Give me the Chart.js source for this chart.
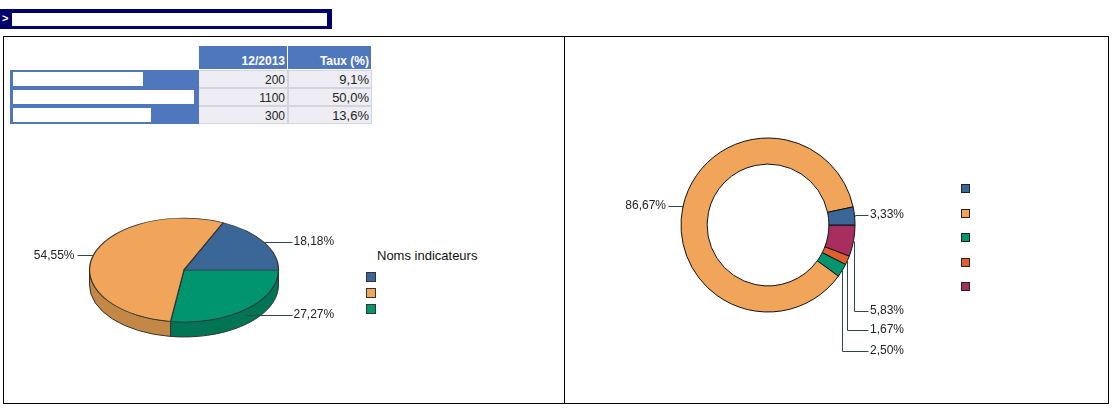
<!DOCTYPE html>
<html><head><meta charset="utf-8">
<script src="https://cdn.jsdelivr.net/npm/chart.js@4.4.1/dist/chart.umd.min.js"></script>
<style>
html,body{margin:0;padding:0;background:#fff;width:1113px;height:414px;overflow:hidden;font-family:"Liberation Sans",Arial,sans-serif;}
.abs{position:absolute;box-sizing:border-box;}
</style></head><body>
<div class="abs" style="left:0;top:9px;width:332px;height:20px;background:#00006a;"></div>
<div class="abs" style="left:12px;top:13px;width:315px;height:13px;background:#fff;"></div>
<div class="abs" style="left:2px;top:12px;color:#fff;font:bold 11px 'Liberation Sans';">&gt;</div>
<div class="abs" style="left:3px;top:36px;width:1106px;height:368px;border:1px solid #000;"></div>
<div class="abs" style="left:564px;top:36px;width:1px;height:368px;background:#000;"></div>
<div id="table"></div>
<div id="legendL"></div>
<div id="legendR"></div>
<canvas id="pie" class="abs" style="left:9px;top:135px;" width="350" height="270"></canvas>
<canvas id="donut" class="abs" style="left:618px;top:90px;" width="300" height="270"></canvas>
<script>
// ---- data ----
const tableHeaders = ['12/2013', 'Taux (%)'];
const tableValues = [200, 1100, 300];
const tableRates = ['9,1%', '50,0%', '13,6%'];

const pieCategories = ['Indicateur 1', 'Indicateur 2', 'Indicateur 3'];
const pieValues = [200, 600, 300];
const legendTitle = 'Noms indicateurs';

const donutCategories = ['Indicateur A', 'Indicateur B', 'Indicateur C', 'Indicateur D', 'Indicateur E'];
const donutValues = [4, 104, 3, 2, 7];

// ---- styles / layout ----
const pieColors = ['#3B6698', '#F0A55A', '#00956F'];
const pieSideColors = ['#2C4D73', '#C48846', '#007556'];
const donutColors = ['#3B6698', '#F0A55A', '#00956F', '#E0612F', '#A82E60'];
const redactWidths = [130, 181, 138];
const donutLabelY = [215, 206, 351, 330, 311];
const HEAD = '#4F77BD';

// ---- table ----
(function(){
  const t = document.getElementById('table');
  let h = '';
  const cols = [{l:199,w:88},{l:288,w:83}];
  tableHeaders.forEach((txt,i)=>{
    h += `<div class="abs" style="left:${cols[i].l}px;top:46px;width:${cols[i].w}px;height:23px;background:${HEAD};color:#fff;font:bold 12px 'Liberation Sans';text-align:right;padding:8px 2px 0 0;">${txt}</div>`;
  });
  const rowTops = [70, 88, 106];
  tableValues.forEach((v,i)=>{
    const top = rowTops[i];
    h += `<div class="abs" style="left:10px;top:${top}px;width:189px;height:18px;background:${HEAD};"></div>`;
    h += `<div class="abs" style="left:13px;top:${top+2}px;width:${redactWidths[i]}px;height:14px;background:#fff;"></div>`;
    h += `<div class="abs" style="left:199px;top:${top}px;width:89px;height:18px;background:#EDEDF3;border:1px solid #d4d4dc;border-left:none;font:12px 'Liberation Sans';color:#222;text-align:right;padding:2px 2px 0 0;">${v}</div>`;
    h += `<div class="abs" style="left:288px;top:${top}px;width:84px;height:18px;background:#EDEDF3;border:1px solid #d4d4dc;font:13px 'Liberation Sans';color:#222;text-align:right;padding:1px 2px 0 0;">${tableRates[i]}</div>`;
  });
  t.innerHTML = h;
})();

// ---- legends ----
(function(){
  let h = `<div class="abs" style="left:377px;top:248px;font:13px 'Liberation Sans';color:#111;white-space:nowrap;">${legendTitle}</div>`;
  pieCategories.forEach((c,i)=>{
    h += `<div class="abs" title="${c}" style="left:366px;top:${272+i*16}px;width:10px;height:10px;background:${pieColors[i]};border:1px solid #333;"></div>`;
  });
  document.getElementById('legendL').innerHTML = h;
  let r = '';
  donutCategories.forEach((c,i)=>{
    r += `<div class="abs" title="${c}" style="left:961px;top:${184+Math.round(i*24.6)}px;width:9px;height:9px;background:${donutColors[i]};border:1px solid #222;"></div>`;
  });
  document.getElementById('legendR').innerHTML = r;
})();

const fmt = (v,total)=> (v/total*100).toFixed(2).replace('.', ',') + '%';

// ---- plugins ----
const pie3d = {
  id: 'pie3d',
  beforeDatasetsDraw(chart, args, opts) {
    if (!opts || !opts.ratio) return;
    const meta = chart.getDatasetMeta(0);
    const ctx = chart.ctx;
    const a0 = meta.data[0];
    const cx = a0.x, cy = a0.y, rx = a0.outerRadius, ry = rx*opts.ratio, d = opts.depth;
    const sides = opts.sideColors;
    ctx.save();
    meta.data.forEach((arc,i)=>{
      let a1 = arc.startAngle, a2 = arc.endAngle;
      const TWO = Math.PI*2;
      while (a1 >= TWO) { a1 -= TWO; a2 -= TWO; }
      [[0, Math.PI],[TWO, TWO+Math.PI]].forEach(([lo,hi])=>{
        const s = Math.max(a1, lo), e = Math.min(a2, hi);
        if (s < e) {
          ctx.beginPath();
          ctx.ellipse(cx, cy, rx, ry, 0, s, e, false);
          ctx.ellipse(cx, cy + d, rx, ry, 0, e, s, true);
          ctx.closePath();
          ctx.fillStyle = sides[i];
          ctx.fill();
          ctx.lineWidth = 1;
          ctx.strokeStyle = '#333';
          ctx.stroke();
        }
      });
    });
    ctx.restore();
    ctx.save();
    ctx.translate(cx, cy); ctx.scale(1, opts.ratio); ctx.translate(-cx, -cy);
  },
  afterDatasetsDraw(chart, args, opts) {
    if (opts && opts.ratio) chart.ctx.restore();
  }
};

const leaderLabels = {
  id: 'leaderLabels',
  afterDraw(chart, args, opts) {
    const meta = chart.getDatasetMeta(0);
    const ctx = chart.ctx;
    const data = chart.data.datasets[0].data;
    const total = data.reduce((a,b)=>a+b,0);
    const n = data.length;
    const ratio = opts.ratio || 1, depth = opts.depth || 0;
    ctx.save();
    ctx.font = "12px 'Liberation Sans'";
    ctx.fillStyle = '#222';
    ctx.strokeStyle = '#2d4848';
    ctx.lineWidth = 1;
    ctx.textBaseline = 'middle';
    meta.data.forEach((arc,i)=>{
      const m = (arc.startAngle + arc.endAngle)/2;
      const cx = arc.x, cy = arc.y, rx = arc.outerRadius, ry = rx*ratio;
      const sn = Math.sin(m), cs = Math.cos(m);
      const ax = cx + rx*cs;
      const ay = cy + ry*sn + (sn > 0 ? depth*sn*0.5 : 0);
      const orig = opts.reversed ? n-1-i : i;
      const ly = opts.labelY ? opts.labelY[orig] : ay;
      const right = cs >= 0;
      const tx = right ? cx + rx + 15 : cx - rx - 15;
      ctx.beginPath();
      ctx.moveTo(Math.round(ax)+0.5, Math.round(ay)+0.5);
      ctx.lineTo(Math.round(ax)+0.5, Math.round(ly)+0.5);
      ctx.lineTo(Math.round(right ? tx-2 : tx+2)+0.5, Math.round(ly)+0.5);
      ctx.stroke();
      ctx.textAlign = right ? 'left' : 'right';
      ctx.fillText(fmt(data[i], total), tx, ly);
    });
    ctx.restore();
  }
};

// ---- charts (drawn counter-clockwise in the original: reverse order) ----
const rev = a => a.slice().reverse();

new Chart(document.getElementById('pie'), {
  type: 'pie',
  data: {
    labels: rev(pieCategories),
    datasets: [{ data: rev(pieValues), backgroundColor: rev(pieColors), borderColor: '#333', borderWidth: 1.3, radius: 94.5 }]
  },
  options: {
    responsive: false, animation: false, rotation: 90,
    layout: { padding: 0 },
    plugins: {
      legend: { display: false }, tooltip: { enabled: false },
      pie3d: { ratio: 0.55, depth: 15, sideColors: rev(pieSideColors) },
      leaderLabels: { ratio: 0.55, depth: 15, reversed: true }
    }
  },
  plugins: [pie3d, leaderLabels]
});

new Chart(document.getElementById('donut'), {
  type: 'doughnut',
  data: {
    labels: rev(donutCategories),
    datasets: [{ data: rev(donutValues), backgroundColor: rev(donutColors), borderColor: '#111', borderWidth: 1, radius: 87 }]
  },
  options: {
    responsive: false, animation: false, rotation: 90, cutout: '70%',
    layout: { padding: 0 },
    plugins: {
      legend: { display: false }, tooltip: { enabled: false },
      pie3d: {},
      leaderLabels: { ratio: 1, depth: 0, reversed: true, labelY: donutLabelY.map(y => y - 90) }
    }
  },
  plugins: [pie3d, leaderLabels]
});
</script>
</body></html>
